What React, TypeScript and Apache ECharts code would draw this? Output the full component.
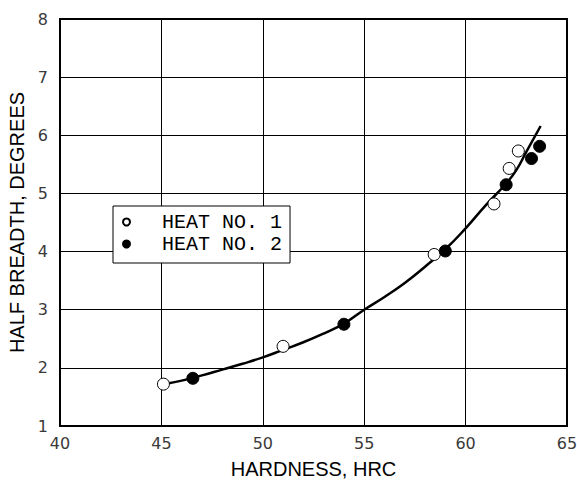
import React, { useEffect, useRef } from "react";
import * as echarts from "echarts";

const heat1X = [45.1, 51.0, 58.45, 61.4, 62.15, 62.6];
const heat1Y = [1.72, 2.37, 3.95, 4.82, 5.43, 5.73];
const heat2X = [46.55, 54.0, 59.0, 62.0, 63.25, 63.65];
const heat2Y = [1.82, 2.75, 4.01, 5.15, 5.6, 5.81];
const curveX = [45.3, 46, 47, 48, 49, 50, 51, 52, 53, 54, 55, 56, 57, 58, 59, 60, 61, 62, 62.5, 63, 63.7];
const curveY = [1.73, 1.78, 1.87, 1.97, 2.07, 2.18, 2.31, 2.44, 2.59, 2.76, 3.0, 3.22, 3.46, 3.74, 4.04, 4.4, 4.8, 5.17, 5.4, 5.72, 6.16];
const xTicks = [40, 45, 50, 55, 60, 65];
const yTicks = [1, 2, 3, 4, 5, 6, 7, 8];
const seriesNames = ["HEAT NO. 1", "HEAT NO. 2"];

const zip = (xs: number[], ys: number[]) => xs.map((x, i) => [x, ys[i]]);

export default function App() {
  const ref = useRef<HTMLDivElement>(null);
  useEffect(() => {
    if (!ref.current) return;
    const chart = echarts.init(ref.current, null, { renderer: "svg" });
    const tickFont = { fontFamily: "DejaVu Sans", fontSize: 16, color: "#3a3a3a" };
    chart.setOption({
      animation: false,
      backgroundColor: "#fff",
      grid: {
        left: 60,
        right: 10,
        top: 19,
        bottom: 55,
        show: true,
        borderColor: "#000",
        borderWidth: 2,
        backgroundColor: "transparent",
        outerBoundsMode: "none",
        containLabel: false,
      },
      legend: {
        data: seriesNames,
        orient: "vertical",
        left: 113,
        top: 206,
        padding: [6, 8, 9, 9],
        itemGap: 2,
        itemWidth: 7,
        itemHeight: 7,
        borderColor: "#000",
        borderWidth: 1,
        backgroundColor: "#fff",
        textStyle: {
          fontFamily: "Liberation Mono",
          fontSize: 20,
          lineHeight: 19,
          color: "#000",
          padding: [0, 0, 0, 27],
        },
      },
      xAxis: {
        type: "value",
        min: xTicks[0],
        max: xTicks[xTicks.length - 1],
        interval: 5,
        name: "HARDNESS, HRC",
        nameLocation: "middle",
        nameGap: 33,
        nameTextStyle: { fontFamily: "Liberation Sans", fontSize: 20, color: "#000" },
        axisLine: { show: true, lineStyle: { color: "#000", width: 2 } },
        axisTick: { show: false },
        axisLabel: { ...tickFont, margin: 9 },
        splitLine: { show: true, lineStyle: { color: "#000", width: 1 } },
      },
      yAxis: {
        type: "value",
        min: yTicks[0],
        max: yTicks[yTicks.length - 1],
        interval: 1,
        name: "HALF BREADTH, DEGREES",
        nameLocation: "middle",
        nameGap: 32,
        nameTextStyle: { fontFamily: "Liberation Sans", fontSize: 20, color: "#000" },
        axisLine: { show: true, lineStyle: { color: "#000", width: 2 } },
        axisTick: { show: false },
        axisLabel: { ...tickFont, margin: 12 },
        splitLine: { show: true, lineStyle: { color: "#000", width: 1 } },
      },
      series: [
        {
          name: "fit",
          type: "line",
          data: zip(curveX, curveY),
          smooth: true,
          showSymbol: false,
          lineStyle: { color: "#000", width: 2.5 },
          z: 2,
        },
        {
          name: seriesNames[0],
          type: "scatter",
          data: zip(heat1X, heat1Y),
          symbol: "circle",
          symbolSize: 12,
          itemStyle: { color: "#fff", borderColor: "#000", borderWidth: 1, opacity: 1 },
          z: 3,
        },
        {
          name: seriesNames[1],
          type: "scatter",
          data: zip(heat2X, heat2Y),
          symbol: "circle",
          symbolSize: 12,
          itemStyle: { color: "#000", borderColor: "#000", borderWidth: 1, opacity: 1 },
          z: 3,
        },
      ],
    });
    return () => chart.dispose();
  }, []);
  return <div ref={ref} style={{ width: 577, height: 481, position: "absolute", left: 0, top: 0 }} />;
}
